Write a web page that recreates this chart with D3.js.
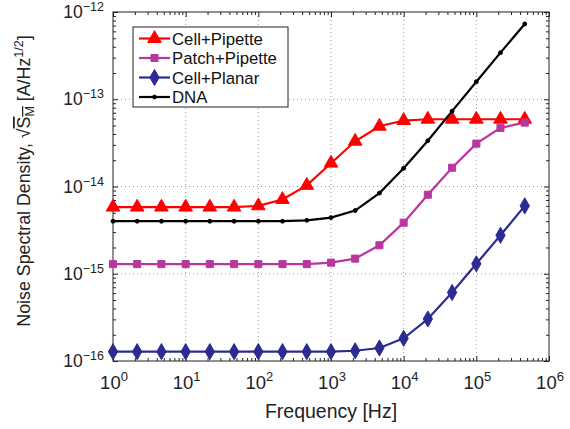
<!DOCTYPE html>
<html>
<head>
<meta charset="utf-8">
<script src="https://cdn.jsdelivr.net/npm/d3@7"></script>
<style>
  body { margin: 0; background: #fff; }
  text { font-family: "Liberation Sans", Arial, sans-serif; }
</style>
</head>
<body>
<div id="chart"></div>
<script>
// Frequencies (Hz), 3 points per decade
var freq = [1, 2.15, 4.64, 10, 21.5, 46.4, 100, 215, 464, 1000, 2150, 4640,
  1e4, 2.15e4, 4.64e4, 1e5, 2.15e5, 4.64e5];

// Noise spectral density (A/Hz^1/2)
var cellPipette = [5.8e-15, 5.8e-15, 5.8e-15, 5.8e-15, 5.8e-15, 5.8e-15, 6.0e-15, 7.1e-15,
  1.03e-14, 1.85e-14, 3.3e-14, 4.9e-14, 5.7e-14, 5.9e-14, 5.9e-14, 5.9e-14, 5.9e-14, 5.9e-14];
var patchPipette = [1.29e-15, 1.29e-15, 1.29e-15, 1.29e-15, 1.29e-15, 1.29e-15, 1.29e-15, 1.29e-15,
  1.29e-15, 1.34e-15, 1.49e-15, 2.12e-15, 3.85e-15, 8.05e-15, 1.64e-14, 3.1e-14, 4.7e-14, 5.4e-14];
var cellPlanar = [1.28e-16, 1.28e-16, 1.28e-16, 1.28e-16, 1.28e-16, 1.28e-16, 1.28e-16, 1.28e-16,
  1.28e-16, 1.28e-16, 1.31e-16, 1.41e-16, 1.82e-16, 3.03e-16, 6.1e-16, 1.30e-15, 2.76e-15, 6.0e-15];
var dna = [4.0e-15, 4.0e-15, 4.0e-15, 4.0e-15, 4.0e-15, 4.0e-15, 4.0e-15, 4.0e-15,
  4.1e-15, 4.4e-15, 5.3e-15, 8.4e-15, 1.62e-14, 3.35e-14, 7.3e-14, 1.59e-13, 3.42e-13, 7.3e-13];

var seriesNames = ["Cell+Pipette", "Patch+Pipette", "Cell+Planar", "DNA"];
var xTickExp = [0, 1, 2, 3, 4, 5, 6];
var yTickExp = [-16, -15, -14, -13, -12];

var series = [
  { name: seriesNames[0], values: cellPipette, color: "#ff0000", symbol: d3.symbolTriangle, size: 80 },
  { name: seriesNames[1], values: patchPipette, color: "#b8379e", symbol: d3.symbolSquare, size: 50 },
  { name: seriesNames[2], values: cellPlanar, color: "#2b2b93", symbol: d3.symbolDiamond, size: 75 },
  { name: seriesNames[3], values: dna, color: "#000000", symbol: d3.symbolCircle, size: 12 }
];

var svgWidth = 570;
var svgHeight = 429;
var margin = { top: 12, right: 21, bottom: 68, left: 113 };
var chartWidth = svgWidth - margin.left - margin.right;
var chartHeight = svgHeight - margin.top - margin.bottom;

var svg = d3.select("#chart")
  .append("svg")
  .attr("width", svgWidth)
  .attr("height", svgHeight);

var chartGroup = svg.append("g")
  .attr("transform", `translate(${margin.left}, ${margin.top})`);

var x = d3.scaleLog().domain([1, 1e6]).range([0, chartWidth]);
var y = d3.scaleLog().domain([1e-16, 1e-12]).range([chartHeight, 0]);

var xMajor = xTickExp.map(e => Math.pow(10, e));
var yMajor = yTickExp.map(e => Math.pow(10, e));
var xMinor = [];
xTickExp.slice(0, -1).forEach(e => { for (var m = 2; m < 10; m++) xMinor.push(m * Math.pow(10, e)); });
var yMinor = [];
yTickExp.slice(0, -1).forEach(e => { for (var m = 2; m < 10; m++) yMinor.push(m * Math.pow(10, e)); });

// dotted grid
chartGroup.append("g")
  .selectAll("line")
  .data(xMajor.slice(1, -1))
  .enter()
  .append("line")
  .attr("x1", d => x(d)).attr("x2", d => x(d))
  .attr("y1", 0).attr("y2", chartHeight)
  .attr("stroke", "#999").attr("stroke-dasharray", "1,3");

chartGroup.append("g")
  .selectAll("line")
  .data(yMajor.slice(1, -1))
  .enter()
  .append("line")
  .attr("y1", d => y(d)).attr("y2", d => y(d))
  .attr("x1", 0).attr("x2", chartWidth)
  .attr("stroke", "#999").attr("stroke-dasharray", "1,3");

// inward ticks on all four sides
function tickAxis(axisFn, scale, vals, size, transform) {
  var g = chartGroup.append("g")
    .attr("transform", transform)
    .call(axisFn(scale).tickValues(vals).tickSize(size).tickFormat(""));
  g.select(".domain").remove();
  g.selectAll("line").attr("stroke", "#222");
}
tickAxis(d3.axisBottom, x, xMajor, -5, `translate(0, ${chartHeight})`);
tickAxis(d3.axisBottom, x, xMinor, -3, `translate(0, ${chartHeight})`);
tickAxis(d3.axisTop, x, xMajor, -5, "translate(0, 0)");
tickAxis(d3.axisTop, x, xMinor, -3, "translate(0, 0)");
tickAxis(d3.axisLeft, y, yMajor, -5, "translate(0, 0)");
tickAxis(d3.axisLeft, y, yMinor, -3, "translate(0, 0)");
tickAxis(d3.axisRight, y, yMajor, -5, `translate(${chartWidth}, 0)`);
tickAxis(d3.axisRight, y, yMinor, -3, `translate(${chartWidth}, 0)`);

// frame
chartGroup.append("rect")
  .attr("width", chartWidth).attr("height", chartHeight)
  .attr("fill", "none").attr("stroke", "#222").attr("stroke-width", 1);

// tick labels with superscripts
xTickExp.forEach(function(e) {
  var t = chartGroup.append("text")
    .attr("x", x(Math.pow(10, e)) + 1)
    .attr("y", chartHeight + 28)
    .attr("text-anchor", "middle")
    .attr("font-size", "18.5px")
    .attr("fill", "#222");
  t.append("tspan").text("10");
  t.append("tspan").attr("dy", -8).attr("font-size", "13px").text(e);
});

yTickExp.forEach(function(e) {
  var t = chartGroup.append("text")
    .attr("x", -9)
    .attr("y", y(Math.pow(10, e)) + 6)
    .attr("text-anchor", "end")
    .attr("font-size", "17.5px")
    .attr("fill", "#222");
  t.append("tspan").text("10");
  t.append("tspan").attr("dy", -7).attr("font-size", "12.5px").text("\u2212" + (-e));
});

// lines and markers
var line = d3.line()
  .x((d, i) => x(freq[i]))
  .y(d => y(d));

series.forEach(function(s) {
  chartGroup.append("path")
    .datum(s.values)
    .attr("d", line)
    .attr("fill", "none")
    .attr("stroke", s.color)
    .attr("stroke-width", 2.2);

  chartGroup.selectAll(null)
    .data(s.values)
    .enter()
    .append("path")
    .attr("d", d3.symbol().type(s.symbol).size(s.size))
    .attr("transform", (d, i) => `translate(${x(freq[i])}, ${y(d)})`)
    .attr("fill", s.color)
    .attr("stroke", s.color)
    .attr("stroke-width", 1);
});

// legend
var legend = chartGroup.append("g")
  .attr("transform", "translate(20, 15)");

legend.append("rect")
  .attr("width", 155).attr("height", 80)
  .attr("fill", "#fff").attr("stroke", "#222").attr("stroke-width", 1);

series.forEach(function(s, i) {
  var ly = 11.5 + i * 19.5;
  legend.append("line")
    .attr("x1", 6).attr("x2", 37)
    .attr("y1", ly).attr("y2", ly)
    .attr("stroke", s.color).attr("stroke-width", 2.2);
  legend.append("path")
    .attr("d", d3.symbol().type(s.symbol).size(s.size))
    .attr("transform", `translate(21.5, ${ly})`)
    .attr("fill", s.color).attr("stroke", s.color);
  legend.append("text")
    .attr("x", 39).attr("y", ly + 6)
    .attr("font-size", "16.8px")
    .attr("fill", "#111")
    .text(s.name);
});

// axis titles
svg.append("text")
  .attr("x", margin.left + chartWidth / 2)
  .attr("y", 418)
  .attr("text-anchor", "middle")
  .attr("font-size", "19.5px")
  .attr("fill", "#222")
  .text("Frequency [Hz]");

var yTitle = svg.append("text")
  .attr("transform", "translate(30, 181) rotate(-90)")
  .attr("text-anchor", "middle")
  .attr("font-size", "17.8px")
  .attr("fill", "#222");
yTitle.append("tspan").text("Noise Spectral Density, ");
yTitle.append("tspan").text("\u221A");
yTitle.append("tspan").style("text-decoration", "overline").text("S");
yTitle.append("tspan").attr("dy", 4).attr("font-size", "12.5px").style("text-decoration", "overline").text("M");
yTitle.append("tspan").attr("dy", -4).text(" [A/Hz");
yTitle.append("tspan").attr("dy", -7).attr("font-size", "12.5px").text("1/2");
yTitle.append("tspan").attr("dy", 7).text("]");
</script>
</body>
</html>
